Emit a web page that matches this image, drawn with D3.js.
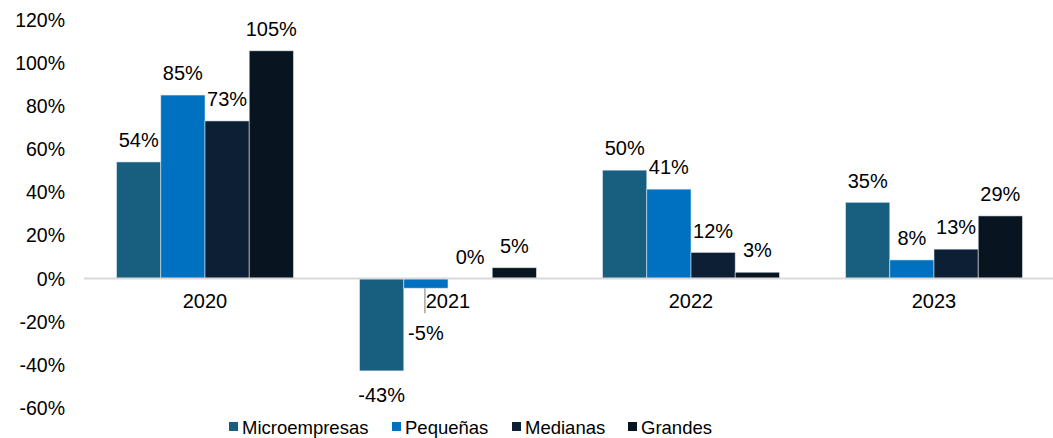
<!DOCTYPE html>
<html><head><meta charset="utf-8">
<script src="https://cdn.jsdelivr.net/npm/d3@7"></script>
<style>body{margin:0;background:#fff}svg{display:block;font-family:"Liberation Sans",Arial,sans-serif}</style>
</head><body><svg id="c" width="1053" height="438"></svg>
<script>
const categories = ["2020","2021","2022","2023"];
const seriesNames = ["Microempresas","Pequeñas","Medianas","Grandes"];
const microempresas = [0.54, -0.428, 0.502, 0.353];
const pequenas = [0.85, -0.045, 0.414, 0.086];
const medianas = [0.73, 0.0, 0.121, 0.136];
const grandes = [1.055, 0.05, 0.029, 0.29];
const labelsMicro = ["54%","-43%","50%","35%"];
const labelsPeq = ["85%","-5%","41%","8%"];
const labelsMed = ["73%","0%","12%","13%"];
const labelsGra = ["105%","5%","3%","29%"];
const yTicks = [-0.6,-0.4,-0.2,0,0.2,0.4,0.6,0.8,1.0,1.2];
const yTickLabels = ["-60%","-40%","-20%","0%","20%","40%","60%","80%","100%","120%"];
const colors = ["#175e7f","#0070c0","#0c1f35","#08141f"];

const values = [microempresas, pequenas, medianas, grandes];
const labels = [labelsMicro, labelsPeq, labelsMed, labelsGra];

const svg = d3.select("#c");
const y = d3.scaleLinear().domain([-0.6,1.2]).range([408,19.5]);
const x0 = d3.scaleBand().domain(categories).range([83.5,1055.5]).paddingInner(0.272).paddingOuter(0.136);
const x1 = d3.scaleBand().domain(seriesNames).range([0,x0.bandwidth()]);

// y tick labels
svg.append("g").selectAll("text").data(yTicks).join("text")
  .attr("x",65).attr("y",d=>y(d)).attr("dy","0.36em")
  .attr("text-anchor","end").attr("font-size",19.5).attr("fill","#000")
  .text((d,i)=>yTickLabels[i]);

// bars
const data = [];
categories.forEach((c,i)=>seriesNames.forEach((s,j)=>data.push({c,s,j,v:values[j][i],l:labels[j][i]})));
svg.append("g").selectAll("rect").data(data).join("rect")
  .attr("x",d=>x0(d.c)+x1(d.s))
  .attr("width",x1.bandwidth())
  .attr("y",d=>y(Math.max(0,d.v)))
  .attr("height",d=>Math.abs(y(d.v)-y(0)))
  .attr("fill",d=>colors[d.j])
  .attr("stroke","#e6ecf2").attr("stroke-width",0.8).attr("stroke-opacity",0.7);

// axis line
svg.append("line").attr("x1",84).attr("x2",1053).attr("y1",y(0)).attr("y2",y(0))
  .attr("stroke","#d9d9d9").attr("stroke-width",2);

// leader line for the moved -5% label
const moved = {c:"2021", s:"Pequeñas", extra:21};
const mv = data.find(d=>d.c===moved.c && d.s===moved.s);
const mvx = x0(mv.c)+x1(mv.s)+x1.bandwidth()/2 - 1;
svg.append("line")
  .attr("x1",mvx).attr("x2",mvx)
  .attr("y1",y(mv.v)).attr("y2",y(mv.v)+25)
  .attr("stroke","#a6a6a6").attr("stroke-width",1.5);

// category labels
svg.append("g").selectAll("text").data(categories).join("text")
  .attr("x",d=>x0(d)+x0.bandwidth()/2).attr("y",y(0)+29.5)
  .attr("text-anchor","middle").attr("font-size",20).attr("fill","#000")
  .text(d=>d);

// value labels
svg.append("g").selectAll("text").data(data).join("text")
  .attr("x",d=>x0(d.c)+x1(d.s)+x1.bandwidth()/2)
  .attr("y",d=>{
    let base = d.v>=0 ? y(d.v)-14.8 : y(d.v)+31;
    if(d===mv) base += moved.extra;
    return base;})
  .attr("text-anchor","middle").attr("font-size",20).attr("fill","#000")
  .text(d=>d.l);

// legend
const legX = [229,392,512,628];
const lg = svg.append("g").selectAll("g").data(seriesNames).join("g")
  .attr("transform",(d,i)=>`translate(${legX[i]},427)`);
lg.append("rect").attr("x",0).attr("y",-5).attr("width",9).attr("height",9).attr("fill",(d,i)=>colors[i]);
lg.append("text").attr("x",13).attr("y",0).attr("dy","0.36em").attr("font-size",18.5).attr("fill","#000").text(d=>d);
</script></body></html>
